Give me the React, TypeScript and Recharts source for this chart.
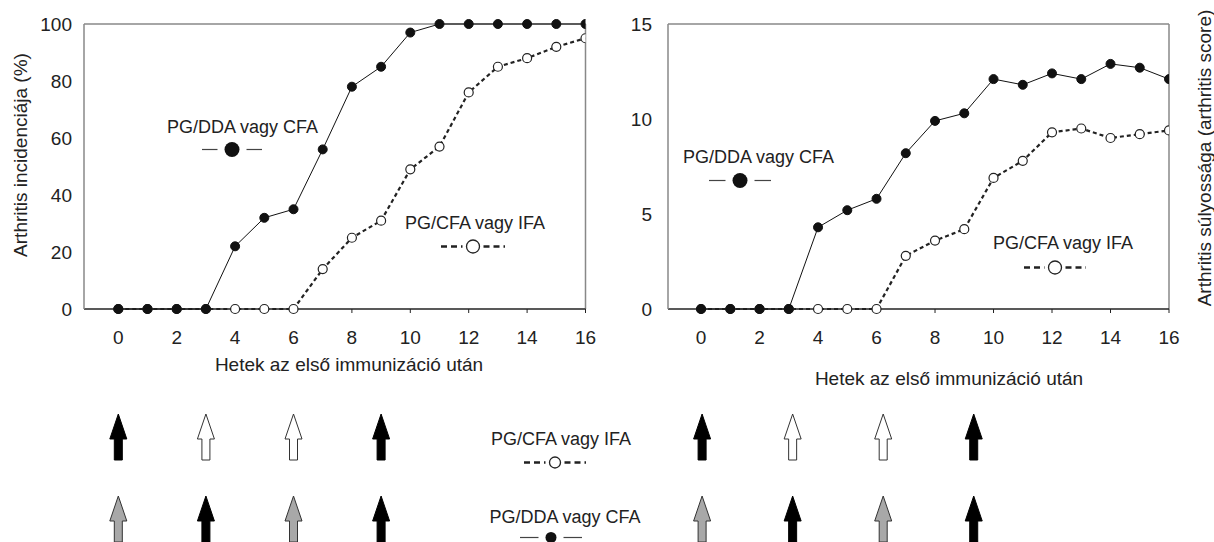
import React from 'react';
import { LineChart, Line, XAxis, YAxis, ReferenceLine, ScatterChart, Scatter } from 'recharts';

// heti adatok (0-16. hét)
const weeks = [0, 1, 2, 3, 4, 5, 6, 7, 8, 9, 10, 11, 12, 13, 14, 15, 16];
const incidenceDDA = [0, 0, 0, 0, 22, 32, 35, 56, 78, 85, 97, 100, 100, 100, 100, 100, 100];
const incidenceCFA = [0, 0, 0, 0, 0, 0, 0, 14, 25, 31, 49, 57, 76, 85, 88, 92, 95];
const scoreDDA = [0, 0, 0, 0, 4.3, 5.2, 5.8, 8.2, 9.9, 10.3, 12.1, 11.8, 12.4, 12.1, 12.9, 12.7, 12.1];
const scoreCFA = [0, 0, 0, 0, 0, 0, 0, 2.8, 3.6, 4.2, 6.9, 7.8, 9.3, 9.5, 9.0, 9.2, 9.4];

const weekTicks = [0, 2, 4, 6, 8, 10, 12, 14, 16];
const incidenceTicks = [0, 20, 40, 60, 80, 100];
const scoreTicks = [0, 5, 10, 15];

// immunizálások (nyilak)
const boostWeeks = [0, 3, 6, 9];
const cfaBoostFills = ['#000', '#fff', '#fff', '#000'];
const ddaBoostFills = ['#a8a8a8', '#000', '#a8a8a8', '#000'];

const labelDDA = 'PG/DDA vagy CFA';
const labelCFA = 'PG/CFA vagy IFA';
const xTitle = 'Hetek az első immunizáció után';

const FONT = '"Liberation Sans", Arial, Helvetica, sans-serif';
const INK = '#222';

const incidenceRows = weeks.map((w, i) => ({ week: w, dda: incidenceDDA[i], cfa: incidenceCFA[i] }));
const scoreRows = weeks.map((w, i) => ({ week: w, dda: scoreDDA[i], cfa: scoreCFA[i] }));
const arrowRows = [
  ...boostWeeks.map((w, i) => ({ week: w, row: 1, fill: cfaBoostFills[i] })),
  ...boostWeeks.map((w, i) => ({ week: w, row: 0, fill: ddaBoostFills[i] })),
];

const Arrow = (props: any) => {
  const { cx, cy, payload } = props;
  const fill = payload?.fill ?? '#000';
  const pts = [
    [cx, cy], [cx + 8.5, cy + 25], [cx + 4, cy + 25], [cx + 4, cy + 46],
    [cx - 4, cy + 46], [cx - 4, cy + 25], [cx - 8.5, cy + 25],
  ].map((p) => p.join(',')).join(' ');
  return <polygon points={pts} fill={fill} stroke={fill === '#000' ? '#000' : '#333'} strokeWidth={1} />;
};

const Key = ({ x, y, width, filled, r }: { x: number; y: number; width: number; filled: boolean; r: number }) => {
  const h = 2 * r + 4;
  const gap = filled ? 7 : 4;
  return (
    <svg style={{ position: 'absolute', left: x - width / 2, top: y - h / 2 }} width={width} height={h}>
      {filled ? (
        <>
          <line x1={0} x2={width / 2 - r - gap} y1={h / 2} y2={h / 2} stroke="#444" strokeWidth={1.2} />
          <line x1={width / 2 + r + gap} x2={width} y1={h / 2} y2={h / 2} stroke="#444" strokeWidth={1.2} />
          <circle cx={width / 2} cy={h / 2} r={r} fill="#111" />
        </>
      ) : (
        <>
          <line x1={0} x2={width / 2 - r - gap} y1={h / 2} y2={h / 2} stroke={INK} strokeWidth={2.6} strokeDasharray="6 4" />
          <line x1={width / 2 + r + gap} x2={width} y1={h / 2} y2={h / 2} stroke={INK} strokeWidth={2.6} strokeDasharray="6 4" />
          <circle cx={width / 2} cy={h / 2} r={r} fill="#fff" stroke={INK} strokeWidth={1.3} />
        </>
      )}
    </svg>
  );
};

const Text = ({ x, y, children, center, size = 19 }: { x: number; y: number; children: React.ReactNode; center?: boolean; size?: number }) => (
  <div
    style={{
      position: 'absolute', left: x, top: y - 11, fontSize: size, lineHeight: '22px', color: INK,
      whiteSpace: 'nowrap', transform: center ? 'translateX(-50%)' : undefined,
    }}
  >
    {children}
  </div>
);

const VText = ({ x, y, children }: { x: number; y: number; children: React.ReactNode }) => (
  <div
    style={{
      position: 'absolute', left: x, top: y, fontSize: 19, lineHeight: '22px', color: INK,
      whiteSpace: 'nowrap', transform: 'translate(-50%, -50%) rotate(-90deg)',
    }}
  >
    {children}
  </div>
);

const tickStyle = { fontSize: 19, fill: INK };

const Panel = ({ rows, yMax, yTicks, yWidth, yGap, xMin, width, right }: any) => (
  <LineChart width={width} height={360} data={rows} margin={{ top: 24, right, bottom: 11, left: 0 }}>
    <XAxis
      type="number" dataKey="week" domain={[xMin, 16]} ticks={weekTicks} allowDataOverflow
      height={40} tick={tickStyle} tickSize={4} tickMargin={18}
      axisLine={{ stroke: INK, strokeWidth: 1.3 }} tickLine={{ stroke: INK }}
    />
    <YAxis
      type="number" domain={[0, yMax]} ticks={yTicks} width={yWidth} tick={tickStyle}
      tickLine={false} tickSize={0} tickMargin={yGap} axisLine={{ stroke: '#888', strokeWidth: 1.5 }}
    />
    <ReferenceLine y={yMax} stroke="#888" strokeWidth={1.5} />
    <ReferenceLine x={16} stroke="#888" strokeWidth={1.5} />
    <Line
      dataKey="cfa" stroke={INK} strokeWidth={2.2} strokeDasharray="4 3" isAnimationActive={false}
      dot={{ r: 4.5, fill: '#fff', stroke: INK, strokeWidth: 1.2, strokeDasharray: '0' }}
    />
    <Line
      dataKey="dda" stroke="#111" strokeWidth={1} isAnimationActive={false}
      dot={{ r: 4.5, fill: '#111', stroke: '#111', strokeWidth: 1 }}
    />
  </LineChart>
);

const Arrows = ({ xMin, right, left }: any) => (
  <ScatterChart width={600} height={142} margin={{ top: 14, right, bottom: 46, left }}>
    <XAxis type="number" dataKey="week" domain={[xMin, 16]} hide />
    <YAxis type="number" dataKey="row" domain={[0, 1]} hide />
    <Scatter data={arrowRows} shape={Arrow} isAnimationActive={false} />
  </ScatterChart>
);

export default function App() {
  return (
    <div style={{ position: 'relative', width: 1214, height: 542, overflow: 'hidden', background: '#fff', fontFamily: FONT }}>
      <style>{'body{margin:0}'}</style>

      {/* incidencia */}
      <div style={{ position: 'absolute', left: 0, top: 0 }}>
        <Panel rows={incidenceRows} yMax={100} yTicks={incidenceTicks} yWidth={84} yGap={12} xMin={-1.175} width={600} right={14.5} />
      </div>
      {/* súlyosság */}
      <div style={{ position: 'absolute', left: 600, top: 0 }}>
        <Panel rows={scoreRows} yMax={15} yTicks={scoreTicks} yWidth={68} yGap={16} xMin={-1.13} width={584} right={15} />
      </div>

      <VText x={21} y={155}>Arthritis incidenciája (%)</VText>
      <VText x={1205} y={158}>Arthritis súlyossága (arthritis score)</VText>
      <Text x={349} y={365} center>{xTitle}</Text>
      <Text x={949} y={379} center>{xTitle}</Text>

      <Text x={167} y={127} size={18}>{labelDDA}</Text>
      <Key x={232} y={149} width={60} r={7.5} filled />
      <Text x={405} y={223} size={18}>{labelCFA}</Text>
      <Key x={473} y={246} width={64} r={6.5} filled={false} />

      <Text x={683} y={157} size={18}>{labelDDA}</Text>
      <Key x={740} y={180} width={62} r={7.5} filled />
      <Text x={993} y={243} size={18}>{labelCFA}</Text>
      <Key x={1055} y={267} width={62} r={6.5} filled={false} />

      {/* nyilak */}
      <div style={{ position: 'absolute', left: 0, top: 400 }}>
        <Arrows xMin={-1.175} right={14.5} left={84} />
      </div>
      <div style={{ position: 'absolute', left: 606, top: 400 }}>
        <Arrows xMin={-1.13} right={21} left={62} />
      </div>

      <Text x={561} y={439} center size={18}>{labelCFA}</Text>
      <Key x={555} y={462} width={62} r={5.5} filled={false} />
      <Text x={565} y={517} center size={18}>{labelDDA}</Text>
      <Key x={551} y={537} width={62} r={5.5} filled />
    </div>
  );
}
